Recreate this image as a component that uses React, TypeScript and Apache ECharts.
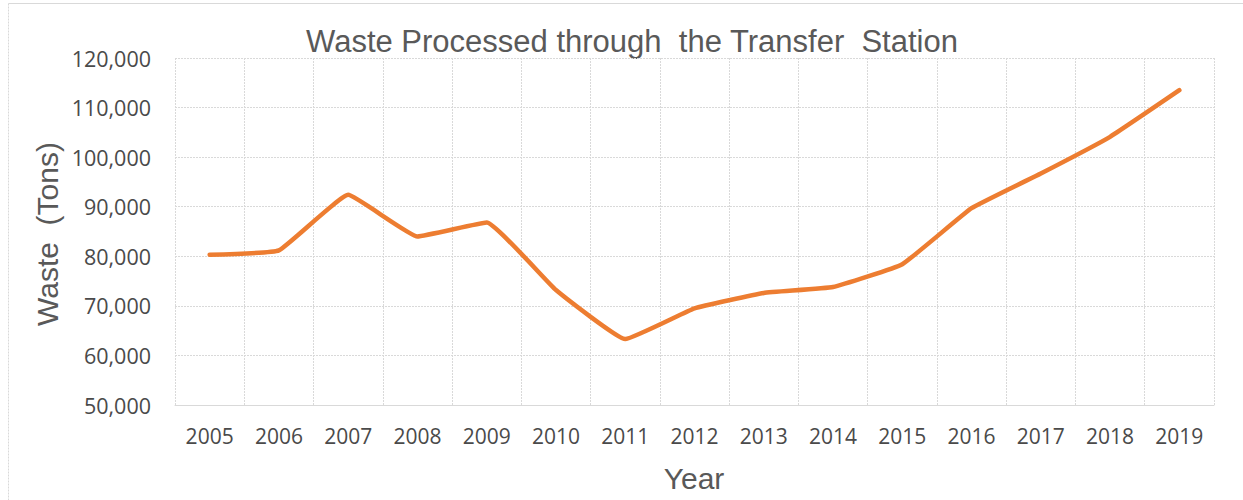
import React, { useEffect, useRef } from "react";
import * as echarts from "echarts";

const years = ["2005", "2006", "2007", "2008", "2009", "2010", "2011", "2012", "2013", "2014", "2015", "2016", "2017", "2018", "2019"];
const waste = [80300, 81200, 92400, 84000, 86800, 73200, 63300, 69500, 72600, 73800, 78400, 89700, 96700, 104100, 113500];
const chartTitle = "Waste Processed through  the Transfer  Station";
const yTitle = "Waste  (Tons)";
const xTitle = "Year";

export default function App() {
  const ref = useRef<HTMLDivElement>(null);
  useEffect(() => {
    document.body.style.margin = "0";
    const chart = echarts.init(ref.current!, null, { renderer: "svg" });
    chart.setOption({
      animation: false,
      backgroundColor: "#ffffff",
      grid: { left: 175, right: 29, top: 58, bottom: 95 },
      xAxis: {
        type: "category",
        data: years,
        boundaryGap: true,
        axisLine: { show: true, lineStyle: { color: "#d9d9d9", width: 1 } },
        axisTick: { show: false },
        axisLabel: { color: "#4a4a4a", fontSize: 21, fontFamily: "Open Sans", margin: 20 },
        splitLine: { show: true, lineStyle: { color: "#d9d9d9", width: 1, type: [2, 1] } },
      },
      yAxis: {
        type: "value",
        min: 50000,
        max: 120000,
        interval: 10000,
        axisLine: { show: false },
        axisTick: { show: false },
        axisLabel: {
          color: "#4a4a4a",
          fontSize: 21.5,
          fontFamily: "Open Sans",
          margin: 24,
          formatter: (v: number) => v.toLocaleString("en-US"),
        },
        splitLine: { show: true, lineStyle: { color: "#d9d9d9", width: 1, type: [2, 1] } },
      },
      series: [
        {
          type: "line",
          data: waste,
          smooth: 0.1,
          symbol: "none",
          lineStyle: { color: "#ED7D31", width: 4.5, cap: "round", join: "round" },
        },
      ],
      graphic: [
        { type: "line", shape: { x1: 8.5, y1: 3.5, x2: 1243, y2: 3.5 }, style: { stroke: "#d9d9d9", lineWidth: 1 } },
        { type: "line", shape: { x1: 8.5, y1: 3.5, x2: 8.5, y2: 500 }, style: { stroke: "#d9d9d9", lineWidth: 1, lineDash: [2, 1] } },
        {
          type: "text",
          x: 632,
          y: 41.5,
          style: { text: chartTitle, fill: "#595959", font: "31px 'Liberation Sans', Arial, sans-serif", textAlign: "center", textVerticalAlign: "middle" },
        },
        {
          type: "text",
          x: 47,
          y: 234,
          rotation: Math.PI / 2,
          style: { text: yTitle, fill: "#595959", font: "30px 'Liberation Sans', Arial, sans-serif", textAlign: "center", textVerticalAlign: "middle" },
        },
        {
          type: "text",
          x: 694,
          y: 478,
          style: { text: xTitle, fill: "#595959", font: "30px 'Liberation Sans', Arial, sans-serif", textAlign: "center", textVerticalAlign: "middle" },
        },
      ],
    });
    return () => chart.dispose();
  }, []);
  return <div ref={ref} style={{ width: 1243, height: 500 }} />;
}
